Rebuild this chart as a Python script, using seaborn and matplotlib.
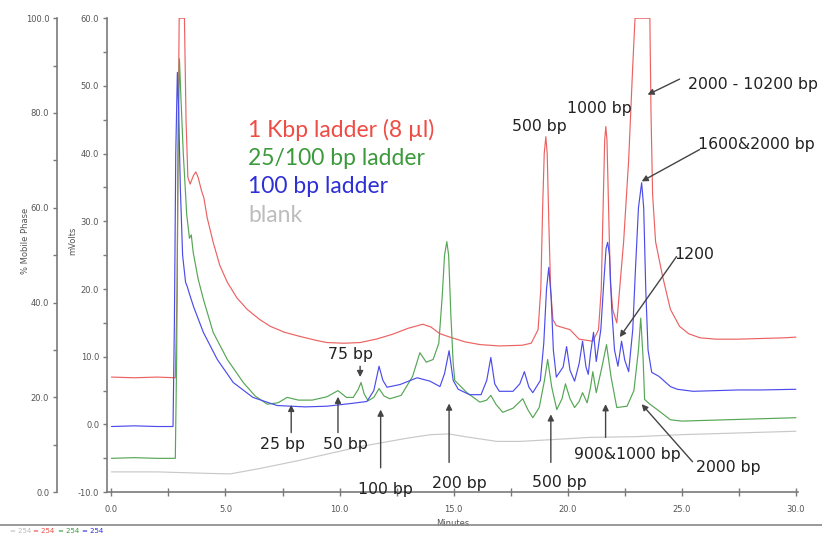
import numpy as np
import pandas as pd
import matplotlib
matplotlib.use("Agg")
import matplotlib.pyplot as plt
from matplotlib.lines import Line2D
from matplotlib.ticker import MultipleLocator, FormatStrFormatter
import seaborn as sns

# Chromatogramas (minutos, mV)
red_t = [0, 1.0, 2.0, 2.8, 2.88, 2.93, 2.97, 3.2, 3.27, 3.35, 3.45, 3.6, 3.7, 3.8, 3.95, 4.05, 4.2,
         4.46, 4.75, 5.08, 5.5, 5.95, 6.5, 6.96, 7.6, 8.27, 9.0, 9.45, 10.2, 10.9, 11.6, 12.3, 13.0,
         13.65, 14.0, 14.4, 14.84, 15.5, 16.15, 17.0, 18.0, 18.4, 18.7, 18.82, 18.9, 18.97, 19.04,
         19.1, 19.17, 19.25, 19.35, 19.5, 20.1, 20.5, 21.1, 21.35, 21.47, 21.55, 21.62, 21.67, 21.72,
         21.79, 21.87, 21.97, 22.15, 22.3, 22.45, 22.67, 22.85, 22.95, 23.6, 23.65, 23.72, 23.85,
         24.15, 24.5, 24.9, 25.3, 25.8, 26.5, 27.5, 28.5, 29.5, 30.0]
red_v = [7.0, 6.9, 7.0, 6.9, 20, 45, 60, 60, 45, 36.5, 35.5, 36.8, 37.3, 36.5, 34.5, 33.5, 30.5,
         26.9, 23.5, 21.0, 18.7, 17.0, 15.5, 14.5, 13.6, 13.0, 12.4, 12.1, 12.0, 12.1, 12.6, 13.3, 14.2,
         14.8, 14.4, 13.4, 12.9, 12.2, 11.8, 11.6, 11.7, 12.0, 14.0, 20, 32, 40, 42.5,
         40, 30, 20, 15.5, 14.6, 14.0, 12.6, 12.3, 14.0, 20, 32, 42, 44, 42,
         32, 21, 17, 15.0, 21, 27, 39, 53, 60, 60, 46, 34, 27,
         22, 17, 14.5, 13.4, 12.8, 12.6, 12.6, 12.7, 12.8, 12.9]

green_t = [0, 1.0, 2.0, 2.8, 2.86, 2.92, 2.98, 3.05, 3.15, 3.3, 3.42, 3.5, 3.58, 3.8, 4.03, 4.46,
           5.08, 5.78, 6.3, 6.83, 7.3, 7.7, 8.2, 8.8, 9.45, 9.93, 10.3, 10.6, 10.82, 10.94, 11.08,
           11.25, 11.5, 11.73, 11.95, 12.2, 12.7, 13.2, 13.52, 13.8, 14.1, 14.35, 14.5, 14.6, 14.7,
           14.78, 14.88, 14.98, 15.05, 15.58, 16.15, 16.45, 16.63, 16.85, 17.15, 17.6, 18.03, 18.25,
           18.47, 18.75, 18.98, 19.12, 19.3, 19.52, 19.75, 19.9, 20.1, 20.3, 20.5, 20.65, 20.85, 21.0,
           21.1, 21.25, 21.5, 21.7, 21.9, 22.15, 22.6, 22.9, 23.1, 23.2, 23.3, 23.37, 23.6, 24.0, 24.5,
           25.0, 26.0, 27.0, 28.0, 29.0, 30.0]
green_v = [-5.0, -4.9, -5.0, -5.0, 10, 40, 54, 48, 40, 31, 27.5, 28.0, 25.5, 21.5, 18.5, 13.6,
           9.6, 6.2, 4.2, 3.0, 3.2, 4.0, 3.6, 3.6, 4.1, 5.0, 4.0, 4.0, 5.2, 6.2, 4.5,
           3.5, 4.0, 5.3, 4.2, 3.8, 4.3, 7.1, 10.6, 9.2, 9.6, 12, 19, 25, 27.0,
           25, 16, 9, 6.5, 4.7, 3.3, 3.6, 4.3, 3.0, 1.8, 2.4, 3.8, 2.2,
           1.0, 2.5, 6.5, 9.6, 5.5, 2.2, 3.8, 6.0, 3.8, 2.5, 3.4, 4.7, 3.2, 5.5,
           7.8, 4.7, 8.5, 11.8, 7.0, 2.5, 2.7, 5.0, 11.0, 15.7, 10.0, 3.7, 3.0, 2.0, 0.7,
           0.5, 0.6, 0.7, 0.8, 0.9, 1.0]

blue_t = [0, 1.0, 2.0, 2.7, 2.76, 2.82, 2.89, 2.95, 3.02, 3.12, 3.25, 3.33, 3.4, 3.6, 4.03, 4.64,
          5.34, 6.2, 7.26, 8.5, 9.45, 10.5, 11.2, 11.5, 11.73, 11.9, 12.08, 12.65, 13.4, 13.96, 14.4,
          14.6, 14.8, 14.98, 15.2, 15.7, 16.2, 16.45, 16.63, 16.8, 17.0, 17.6, 17.9, 18.1, 18.3, 18.47,
          18.8, 18.95, 19.07, 19.17, 19.27, 19.37, 19.5, 19.8, 19.95, 20.1, 20.3, 20.5, 20.65, 20.8,
          20.9, 21.0, 21.13, 21.25, 21.45, 21.58, 21.68, 21.75, 21.83, 21.93, 22.05, 22.2, 22.36, 22.5,
          22.67, 22.85, 22.97, 23.1, 23.24, 23.33, 23.42, 23.52, 23.68, 24.0, 24.5, 24.8, 25.5, 26.5,
          27.5, 28.5, 30.0]
blue_v = [-0.3, -0.2, -0.3, -0.3, 15, 40, 52, 46, 35, 25, 21, 20.3, 19.5, 17.4, 13.6, 9.6,
          6.2, 4.0, 2.8, 2.6, 2.7, 3.1, 3.4, 5.0, 8.6, 6.5, 5.5, 5.9, 6.9, 6.4, 5.6,
          7.5, 10.9, 6.5, 5.2, 4.4, 4.4, 6.5, 9.9, 6.0, 4.9, 4.9, 6.0, 7.8, 5.5, 4.7,
          6.5, 12, 20, 23.2, 19, 11, 7, 8.5, 11.5, 8.0, 6.4, 9.0, 12.3, 8.5,
          7.4, 10.5, 13.6, 9.3, 14, 21, 26, 26.9, 25, 17, 11, 8.6, 12.3, 9.5,
          7.8, 14, 23, 32, 35.7, 32, 20, 11, 7.7, 7.1, 5.6, 5.2, 4.9, 5.0,
          5.1, 5.1, 5.2]

gray_t = [0, 2.0, 4.0, 5.2, 6.5, 8.1, 11.0, 13.0, 14.0, 14.8, 15.5, 16.9, 17.9, 19.5, 21.0, 23.0,
          25.0, 27.0, 30.0]
gray_v = [-7.0, -7.0, -7.2, -7.3, -6.5, -5.4, -3.2, -2.0, -1.5, -1.4, -1.8, -2.5, -2.5, -2.2, -1.9,
          -1.8, -1.5, -1.3, -1.0]

series_names = ["blank", "1 Kbp ladder (8 \u00b5l)", "25/100 bp ladder", "100 bp ladder"]
trace_colors = ["#c8c8c8", "#ec6262", "#55a655", "#4c4cea"]
text_colors = ["#bdbdbd", "#ee4c44", "#3c9a3c", "#2f2fd6"]

sns.set_style("white")
plt.rcParams["font.family"] = ["DejaVu Sans"]

fig = plt.figure(figsize=(8.22, 5.35), dpi=100)
ax = fig.add_axes([0.130, 0.080, 0.841, 0.886])

traces = [(gray_t, gray_v), (red_t, red_v), (green_t, green_v), (blue_t, blue_v)]
for (t, v), name, col in zip(traces, series_names, trace_colors):
    df = pd.DataFrame({"min": t, "mV": v})
    sns.lineplot(data=df, x="min", y="mV", ax=ax, color=col, lw=0.85,
                 estimator=None, sort=False)

axis_col = "#7a7a7a"
tick_col = "#555555"
ax.set_xlim(-0.2, 30.1)
ax.set_ylim(-10, 60)
for s in ["top", "right"]:
    ax.spines[s].set_visible(False)
for s in ["left", "bottom"]:
    ax.spines[s].set_color(axis_col)
    ax.spines[s].set_linewidth(1.2)
ax.xaxis.set_major_locator(MultipleLocator(5))
ax.xaxis.set_minor_locator(MultipleLocator(2.5))
ax.yaxis.set_major_locator(MultipleLocator(10))
ax.yaxis.set_minor_locator(MultipleLocator(5))
ax.xaxis.set_major_formatter(FormatStrFormatter("%.1f"))
ax.yaxis.set_major_formatter(FormatStrFormatter("%.1f"))
ax.tick_params(axis="x", which="both", direction="inout", length=6, width=1, color=axis_col,
               labelsize=6, labelcolor=tick_col, pad=6, bottom=True)
ax.tick_params(axis="y", which="both", direction="out", length=3, width=1, color=axis_col,
               labelsize=6, labelcolor=tick_col, pad=2.5, left=True)
ax.set_xlabel("Minutes", fontsize=6, color=tick_col, labelpad=4)
ax.set_ylabel("mVolts", fontsize=6, color=tick_col)
ax.yaxis.set_label_coords(-0.043, 0.53)

# eje secundario: % fase movil
ax2 = ax.twinx()
ax2.set_ylim(0, 100)
ax2.yaxis.set_ticks_position("left")
ax2.yaxis.set_label_position("left")
ax2.spines["left"].set_position(("outward", 36))
for s in ["top", "right", "bottom"]:
    ax2.spines[s].set_visible(False)
ax2.spines["left"].set_color(axis_col)
ax2.spines["left"].set_linewidth(1.2)
ax2.yaxis.set_major_locator(MultipleLocator(20))
ax2.yaxis.set_minor_locator(MultipleLocator(10))
ax2.yaxis.set_major_formatter(FormatStrFormatter("%.1f"))
ax2.tick_params(axis="y", which="both", direction="out", length=3, width=1, color=axis_col,
                labelsize=6, labelcolor=tick_col, pad=2.5, left=True, right=False)
ax2.set_ylabel("% Mobile Phase", fontsize=6, color=tick_col)
ax2.yaxis.set_label_coords(-0.111, 0.53)

# leyenda de colores dentro del grafico
legend_y = [43.5, 39.3, 35.2, 30.9]
for name, col, y in zip(series_names[1:] + series_names[:1], text_colors[1:] + text_colors[:1],
                        legend_y):
    ax.text(6.0, y, name, color=col, fontsize=16.5, family="Lato", va="center", ha="left")

# etiquetas de picos
lab_col = "#222222"
labels = ["75 bp", "25 bp", "50 bp", "100 bp", "200 bp", "500 bp", "900&1000 bp", "2000 bp",
          "500 bp", "1000 bp", "2000 - 10200 bp", "1600&2000 bp", "1200"]
label_x = [10.46, 7.48, 10.24, 11.99, 15.27, 19.65, 22.63, 27.05, 18.77, 21.4, 28.1, 28.27, 25.56]
label_y = [10.3, -3.0, -3.0, -9.6, -8.7, -8.6, -4.4, -6.4, 44.0, 46.7, 50.2, 41.4, 25.1]
for txt, x, y in zip(labels, label_x, label_y):
    ax.text(x, y, txt, color=lab_col, fontsize=11.3, ha="center", va="center", zorder=5)

# flechas (inicio -> punta)
arrow_from = [(10.9, 8.6), (7.88, -1.2), (9.93, -1.2), (11.8, -6.4), (14.8, -5.6), (19.26, -5.6),
              (21.66, -1.9), (25.47, -5.5), (24.9, 51.0), (25.78, 40.6), (24.77, 24.8)]
arrow_to = [(10.9, 7.0), (7.88, 2.9), (9.93, 4.1), (11.8, 2.2), (14.8, 3.1), (19.26, 1.5),
            (21.66, 3.0), (23.24, 3.0), (23.5, 48.7), (23.24, 35.9), (22.28, 12.9)]
for a, b in zip(arrow_from, arrow_to):
    ax.annotate("", xy=b, xytext=a, annotation_clip=False,
                arrowprops=dict(arrowstyle="-|>", color="#444444", lw=1.0, mutation_scale=9,
                                shrinkA=0, shrinkB=0))

# linea inferior y leyenda de canales
fig.add_artist(Line2D([0, 1], [0.019, 0.019], transform=fig.transFigure, color="#888888", lw=1.2))
chan_x = [0.012, 0.040, 0.070, 0.100]
for cx, col in zip(chan_x, text_colors):
    fig.text(cx, 0.002, "= 254", color=col, fontsize=5, ha="left", va="bottom")

fig.savefig("out.png", dpi=100)
